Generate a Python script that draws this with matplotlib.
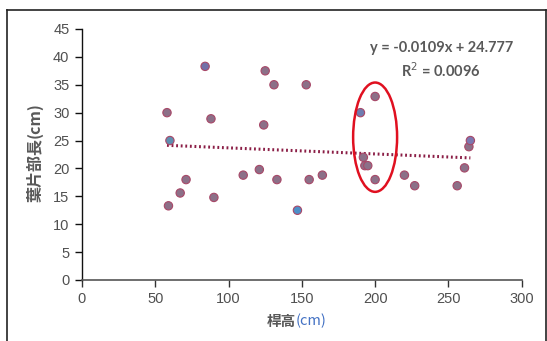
import numpy as np
import matplotlib.pyplot as plt
from matplotlib.patches import Ellipse
from matplotlib.lines import Line2D

# 桿高 (cm) と 葉片部長 (cm)
culm_height = [58, 60, 59, 67, 71, 84, 88, 90, 110, 121, 125, 124, 131, 133, 147,
               153, 155, 164, 190, 200, 192, 193, 195, 200, 220, 227, 256, 261, 264, 265]
blade_length = [30.0, 25.0, 13.3, 15.6, 18.0, 38.3, 28.9, 14.8, 18.8, 19.8, 37.5, 27.8, 35.0, 18.0, 12.5,
                35.0, 18.0, 18.8, 30.0, 32.9, 22.0, 20.5, 20.5, 18.0, 18.8, 16.9, 16.9, 20.1, 23.9, 25.0]
point_colors = ['#8c7088', '#5f8fb0', '#8c7088', '#8c7088', '#8c7088', '#7270a8', '#8c7088', '#8c7088',
                '#8c7088', '#8c7088', '#8c7088', '#8c7088', '#8c7088', '#8c7088', '#4d8fc8',
                '#8c7088', '#8c7088', '#8c7088', '#6f7cb0', '#8c7088', '#8c7088', '#8c7088', '#8c7088',
                '#8c7088', '#8c7088', '#8c7088', '#8c7088', '#8c7088', '#8c7088', '#7c78b0']

# 近似直線 y = a x + b
slope = -0.0109
intercept = 24.777
r_squared = 0.0096

fig = plt.figure(figsize=(5.47, 3.41), dpi=100)
ax = fig.add_axes([0.1499, 0.1789, 0.8038, 0.7361])

ax.scatter(culm_height, blade_length, s=36, c=point_colors, edgecolors='#a84868',
           linewidths=0.8, zorder=3)

xs = np.array([min(culm_height), max(culm_height)])
ax.plot(xs, slope * xs + intercept, linestyle=(0, (0.6, 0.9)), color='#8b1e46',
        linewidth=2.2, dash_capstyle='butt', zorder=2)

# 注目範囲の楕円
ax.add_patch(Ellipse((200, 25.6), 30, 19.6, fill=False, edgecolor='#e01020',
                     linewidth=1.8, zorder=4))

ax.text(0.817, 0.925, f'y = {slope}x + {intercept}', transform=ax.transAxes,
        ha='center', va='center', fontsize=10.5, fontweight='bold',
        color='#595959', family='Lato')
ax.text(0.817, 0.835, f'R$^2$ = {r_squared}', transform=ax.transAxes,
        ha='center', va='center', fontsize=10.5, fontweight='bold',
        color='#595959', family='Lato')

ax.set_xlim(0, 300)
ax.set_ylim(0, 45)
ax.set_xticks(range(0, 301, 50))
ax.set_yticks(range(0, 46, 5))
for side in ['top', 'right']:
    ax.spines[side].set_visible(False)
ax.spines['left'].set_color('#111111')
ax.spines['bottom'].set_color('#555555')
ax.spines['left'].set_linewidth(1.0)
ax.spines['bottom'].set_linewidth(1.2)
ax.tick_params(axis='y', direction='out', length=5, width=1.0, color='#111111',
               labelsize=10.5, labelcolor='#505050', pad=4)
ax.tick_params(axis='x', direction='out', length=5, width=1.0, color='#333333',
               labelsize=10.5, labelcolor='#505050', pad=4)
for lbl in ax.get_xticklabels() + ax.get_yticklabels():
    lbl.set_family('Liberation Sans')

# 軸ラベル（漢字は灰色、単位は青）
cjk = ['Noto Sans CJK JP', 'DejaVu Sans']
fig.text(0.541, 0.0587, '桿高', ha='right', va='center', fontsize=10.5,
         fontweight='bold', color='#595959', family=cjk)
fig.text(0.541, 0.0587, '(cm)', ha='left', va='center', fontsize=10.5,
         color='#4472c4', family=cjk)
fig.text(0.064, 0.595, '葉片部長', ha='center', va='top', rotation=90,
         fontsize=11.5, fontweight='bold', color='#595959', family=cjk)
fig.text(0.064, 0.595, '(cm)', ha='center', va='bottom', rotation=90,
         fontsize=11.5, fontweight='bold', color='#595959', family=cjk)

# 外枠
H = 341.0
W = 547.0
frame_kw = dict(color='#222222', linewidth=1.2, transform=fig.transFigure)
fig.add_artist(Line2D([6.5 / W, 6.5 / W], [0, 1 - 10 / H], **frame_kw))
fig.add_artist(Line2D([6.5 / W, 545.5 / W], [1 - 10 / H, 1 - 10 / H], **frame_kw))
fig.add_artist(Line2D([545.5 / W, 545.5 / W], [0, 1 - 10 / H], **frame_kw))

fig.savefig('out.png', dpi=100)
